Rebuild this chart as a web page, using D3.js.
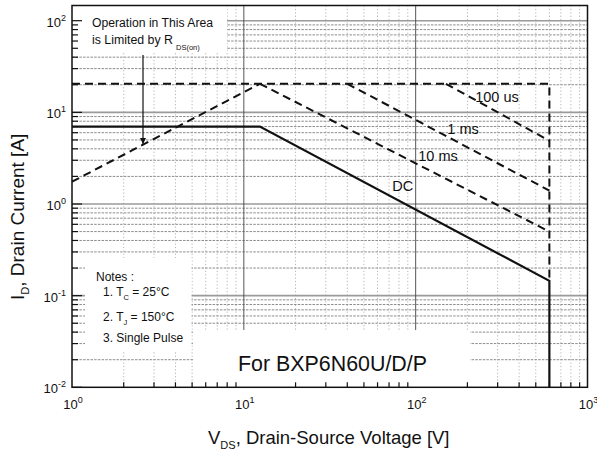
<!DOCTYPE html>
<html><head><meta charset="utf-8">
<script src="https://cdn.jsdelivr.net/npm/d3@7"></script>
<style>body{margin:0;background:#fff} svg{display:block} text{font-family:"Liberation Sans",Arial,sans-serif;fill:#111}</style>
</head><body><svg id="c" width="597" height="454"></svg>
<script>
// ---- data ----
const xTicks = [1, 10, 100, 1000];
const xTickExp = ["0", "1", "2", "3"];
const yTicks = [0.01, 0.1, 1, 10, 100];
const yTickExp = ["-2", "-1", "0", "1", "2"];
const dcV = [1, 12.4, 600, 600];
const dcI = [7, 7, 0.145, 0.01];
const rdsV = [1, 12.4];
const rdsI = [1.75, 20.5];
const limitV = [1, 600, 600];
const limitI = [20.5, 20.5, 0.145];
const ms10V = [12.4, 600];
const ms10I = [20.5, 0.5];
const ms1V = [40, 600];
const ms1I = [20.5, 1.4];
const us100V = [150, 600];
const us100I = [20.5, 4.9];
const curveNames = ["100 us", "1 ms", "10 ms", "DC"];

// ---- layout ----
const svg = d3.select("#c");
const L = 72, R = 587.5, T = 5.5, B = 387.3;
const x = d3.scaleLog().domain([1, 1000]).range([L, R]);
const y = d3.scaleLog().domain([0.01, 100]).range([B, 20.7]);

const minorX = [], minorY = [];
[1, 10, 100].forEach(d => { for (let k = 2; k <= 9; k++) minorX.push(k * d); });
[0.01, 0.1, 1, 10].forEach(d => { for (let k = 2; k <= 9; k++) minorY.push(k * d); });
[100].forEach(d => { for (let k = 2; k <= 9; k++) if (y(k*d) > T) minorY.push(k * d); });

const g = svg.append("g");
// minor vertical grid
g.selectAll(".mvx").data(minorX).join("line")
  .attr("x1", d => x(d)).attr("x2", d => x(d)).attr("y1", T).attr("y2", B)
  .attr("stroke", "#b4b4b4").attr("stroke-width", 1).attr("stroke-dasharray", "1.2,2.2");
// minor horizontal grid
g.selectAll(".mhy").data(minorY).join("line")
  .attr("x1", L).attr("x2", R).attr("y1", d => y(d)).attr("y2", d => y(d))
  .attr("stroke", "#8c8c8c").attr("stroke-width", 1).attr("stroke-dasharray", "2.5,1.2");
// major horizontal grid
g.selectAll(".Mhy").data(yTicks.filter(d => d > 0.01)).join("line")
  .attr("x1", L).attr("x2", R).attr("y1", d => y(d)).attr("y2", d => y(d))
  .attr("stroke", "#9a9a9a").attr("stroke-width", 1.6);
// major vertical grid
g.selectAll(".Mvx").data(xTicks.filter(d => d > 1 && d < 1000)).join("line")
  .attr("x1", d => x(d)).attr("x2", d => x(d)).attr("y1", T).attr("y2", B)
  .attr("stroke", "#444").attr("stroke-width", 0.9);

// white annotation boxes
const boxes = [[L, T, 227, 52], [85, 258, 191.5, 352], [193, 330, 470, B]];
svg.selectAll(".box").data(boxes).join("rect")
  .attr("x", d => d[0]).attr("y", d => d[1]).attr("width", d => d[2] - d[0]).attr("height", d => d[3] - d[1])
  .attr("fill", "#fff");

// ticks
const ta = svg.append("g").attr("stroke", "#111").attr("stroke-width", 1.2);
ta.selectAll(".ly").data(yTicks).join("line").attr("x1", L).attr("x2", L + 10).attr("y1", d => y(d)).attr("y2", d => y(d));
ta.selectAll(".lym").data(minorY).join("line").attr("x1", L).attr("x2", L + 6).attr("y1", d => y(d)).attr("y2", d => y(d));
ta.selectAll(".bxm").data(minorX).join("line").attr("y1", B).attr("y2", B - 5).attr("x1", d => x(d)).attr("x2", d => x(d));

// frame
svg.append("rect").attr("x", L).attr("y", T).attr("width", R - L).attr("height", B - T)
  .attr("fill", "none").attr("stroke", "#111").attr("stroke-width", 1.5);

// curves
const line = d3.line().x(d => x(d[0])).y(d => y(d[1]));
const zip = (a, b) => a.map((v, i) => [v, b[i]]);
const dashed = [zip(rdsV, rdsI), zip(limitV, limitI), zip(ms10V, ms10I), zip(ms1V, ms1I), zip(us100V, us100I)];
svg.selectAll(".dash").data(dashed).join("path").attr("d", line)
  .attr("fill", "none").attr("stroke", "#111").attr("stroke-width", 2).attr("stroke-dasharray", "8,5");
svg.append("path").attr("d", line(zip(dcV, dcI))).attr("fill", "none").attr("stroke", "#111").attr("stroke-width", 2.2);

// curve labels
const labelAt = [[222, 13.0], [152.8, 5.8], [103.6, 2.98], [73.1, 1.386]];
svg.selectAll(".cl").data(curveNames).join("text")
  .attr("x", (d, i) => x(labelAt[i][0])).attr("y", (d, i) => y(labelAt[i][1]))
  .attr("font-size", 14.5).text(d => d);

// tick labels
const xl = svg.selectAll(".xl").data(xTicks).join("text")
  .attr("x", d => x(d) + 1).attr("y", 408.5).attr("text-anchor", "middle").attr("font-size", 13);
xl.append("tspan").text("10");
xl.append("tspan").attr("dy", -6).attr("font-size", 9).text((d, i) => xTickExp[i]);
const yl = svg.selectAll(".yl").data(yTicks).join("text")
  .attr("x", 66).attr("y", d => y(d) + 6).attr("text-anchor", "end").attr("font-size", 13);
yl.append("tspan").text("10");
yl.append("tspan").attr("dy", -6).attr("font-size", 9).text((d, i) => yTickExp[i]);

// axis titles
const xt = svg.append("text").attr("x", 208).attr("y", 444).attr("font-size", 18.5);
xt.append("tspan").text("V");
xt.append("tspan").attr("dy", 5).attr("font-size", 11).text("DS");
xt.append("tspan").attr("dy", -5).text(", Drain-Source Voltage [V]");
const yt = svg.append("text").attr("transform", "translate(24,300) rotate(-90)").attr("font-size", 19);
yt.append("tspan").text("I");
yt.append("tspan").attr("dy", 5).attr("font-size", 11).text("D");
yt.append("tspan").attr("dy", -5).text(", Drain Current [A]");

// annotation
svg.append("text").attr("x", 92).attr("y", 27).attr("font-size", 12.5)
  .attr("textLength", 121).attr("lengthAdjust", "spacingAndGlyphs").text("Operation in This Area");
const a2 = svg.append("text").attr("x", 92).attr("y", 43.5).attr("font-size", 12.5);
a2.append("tspan").attr("textLength", 81).attr("lengthAdjust", "spacingAndGlyphs").text("is Limited by R");
a2.append("tspan").attr("x", 176).attr("dy", 6).attr("font-size", 7.5).text("DS(on)");
// arrow
svg.append("defs").append("marker").attr("id", "ah").attr("viewBox", "0 0 10 10").attr("refX", 10).attr("refY", 5)
  .attr("markerWidth", 6).attr("markerHeight", 6).attr("markerUnits", "userSpaceOnUse").attr("orient", "auto")
  .append("path").attr("d", "M0,0 L10,5 L0,10 z").attr("fill", "#111");
svg.append("line").attr("x1", 143).attr("x2", 143).attr("y1", 55).attr("y2", 144)
  .attr("stroke", "#111").attr("stroke-width", 1.2).attr("marker-end", "url(#ah)");

// notes
svg.append("text").attr("x", 96).attr("y", 281).attr("font-size", 12).text("Notes :");
const n1 = svg.append("text").attr("x", 103).attr("y", 296).attr("font-size", 12);
n1.append("tspan").text("1. T");
n1.append("tspan").attr("dy", 4).attr("font-size", 7.5).text("C");
n1.append("tspan").attr("dy", -4).text(" = 25°C");
const n2 = svg.append("text").attr("x", 103).attr("y", 320.5).attr("font-size", 12);
n2.append("tspan").text("2. T");
n2.append("tspan").attr("dy", 4).attr("font-size", 7.5).text("J");
n2.append("tspan").attr("dy", -4).text(" = 150°C");
svg.append("text").attr("x", 103).attr("y", 341.5).attr("font-size", 12).text("3. Single Pulse");

svg.append("text").attr("x", 238).attr("y", 370.5).attr("font-size", 21.4).text("For BXP6N60U/D/P");
</script></body></html>
